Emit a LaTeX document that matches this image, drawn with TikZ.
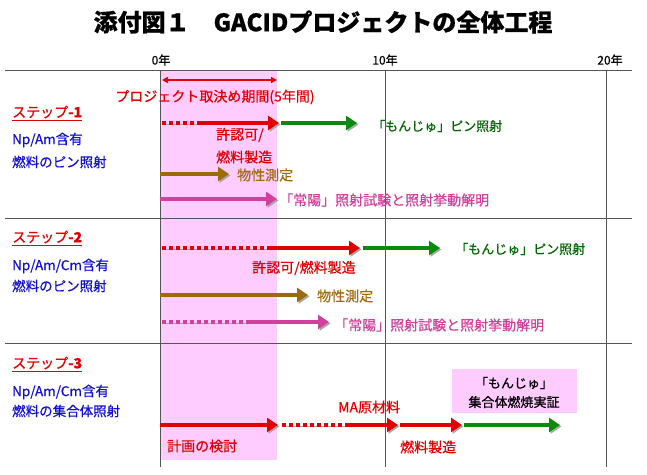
\documentclass[tikz,border=0pt]{standalone}
\usepackage{fontspec}
\setmainfont{Noto Sans CJK JP}[FakeBold=0.6]
\usetikzlibrary{arrows.meta}
\definecolor{rd}{HTML}{E00000}
\definecolor{gr}{HTML}{0A8A0A}
\definecolor{grt}{HTML}{006600}
\definecolor{br}{HTML}{9C6A08}
\definecolor{mg}{HTML}{D0409C}
\definecolor{bl}{HTML}{1010CC}
\definecolor{pk}{HTML}{FFCCFF}
\definecolor{ln}{HTML}{555555}
\tikzset{
  sh/.style={preaction={draw=black!35,transform canvas={xshift=1.5pt,yshift=-1.5pt}}},
  bar/.style={sh,line width=4.5pt,-{Triangle[length=11pt,width=14pt]}},
  dotbar/.style={sh,line width=4pt,dash pattern=on 4pt off 3pt},
  grid/.style={draw=ln,line width=0.9pt},
  lbl/.style={anchor=west,inner sep=0pt,font=\fontsize{14}{16}\selectfont},
  side/.style={anchor=west,inner sep=0pt,text=bl,font=\fontsize{13.5}{16}\selectfont},
  steplbl/.style={anchor=west,inner sep=0pt,text=rd,font=\fontsize{14}{16}\selectfont},
  yr/.style={inner sep=0pt,font=\fontsize{12}{14}\selectfont}
}
\begin{document}
\begin{tikzpicture}[x=1pt,y=-1pt]
\useasboundingbox (0,0) rectangle (647,474);
% pink band
\fill[pk] (160,70) rectangle (277,460);
% title
\node[inner sep=0pt,font=\fontsize{24}{28}\selectfont\bfseries] (title) at (323,22) {添付図１　GACIDプロジェクトの全体工程};
% grid
\draw[grid] (5,70) -- (632,70);
\draw[grid] (5,218) -- (632,218);
\draw[grid] (5,343) -- (632,343);
\draw[grid] (160,70) -- (160,467);
\draw[grid] (385,70) -- (385,467);
\draw[grid] (606,70) -- (606,467);
\node[yr] (y0) at (161,60) {0年};
\node[yr] (y10) at (385,60) {10年};
\node[yr] (y20) at (610,60) {20年};
% project period
\coordinate (p0) at (162,80); \coordinate (p1) at (277,80);
\draw[rd,line width=1.6pt,{Triangle[length=6pt,width=6pt]}-{Triangle[length=6pt,width=6pt]}] (p0) -- (p1);
\node[lbl,text=rd,anchor=center] (period) at (215,97) {プロジェクト取決め期間(5年間)};

% ---------- step 1 ----------
\node[steplbl] (s1) at (12,113) {\underline{ステップ\textbf{-1}}};
\node[side] (s1a) at (12,140) {Np/Am含有};
\node[side] (s1b) at (12,162) {燃料のピン照射};
\coordinate (a1) at (162,123); \coordinate (a2) at (200,123); \coordinate (a3) at (279,123);
\coordinate (a4) at (281,123); \coordinate (a5) at (357,123);
\draw[dotbar,rd] (a1) -- (a2);
\draw[bar,rd] (a2) -- (a3);
\draw[bar,gr] (a4) -- (a5);
\node[lbl,text=grt,font=\fontsize{13}{15}\selectfont] (m1) at (372,126) {「もんじゅ」ピン照射};
\node[lbl,text=rd] (k1a) at (216,135) {許認可/};
\node[lbl,text=rd] (k1b) at (216,157) {燃料製造};
\coordinate (b1) at (160,174); \coordinate (b2) at (229,174);
\draw[bar,br] (b1) -- (b2);
\node[lbl,text=br] (bp1) at (237,175) {物性測定};
\coordinate (c1) at (160,199); \coordinate (c2) at (277,199);
\draw[bar,mg] (c1) -- (c2);
\node[lbl,text=mg] (j1) at (279,200) {「常陽」照射試験と照射挙動解明};

% ---------- step 2 ----------
\node[steplbl] (s2) at (12,238) {\underline{ステップ\textbf{-2}}};
\node[side] (s2a) at (12,266) {Np/Am/Cm含有};
\node[side] (s2b) at (12,286) {燃料のピン照射};
\coordinate (d1) at (162,248); \coordinate (d2) at (267,248); \coordinate (d3) at (360,248);
\coordinate (d4) at (363,248); \coordinate (d5) at (440,248);
\draw[dotbar,rd] (d1) -- (d2);
\draw[bar,rd] (d2) -- (d3);
\draw[bar,gr] (d4) -- (d5);
\node[lbl,text=grt,font=\fontsize{13}{15}\selectfont] (m2) at (455,249) {「もんじゅ」ピン照射};
\node[lbl,text=rd] (k2) at (252,268) {許認可/燃料製造};
\coordinate (e1) at (160,295); \coordinate (e2) at (308,295);
\draw[bar,br] (e1) -- (e2);
\node[lbl,text=br] (bp2) at (317,296) {物性測定};
\coordinate (f1) at (162,322); \coordinate (f2) at (247,322); \coordinate (f3) at (329,322);
\draw[dotbar,mg] (f1) -- (f2);
\draw[bar,mg] (f2) -- (f3);
\node[lbl,text=mg] (j2) at (334,325) {「常陽」照射試験と照射挙動解明};

% ---------- step 3 ----------
\node[steplbl] (s3) at (12,364) {\underline{ステップ\textbf{-3}}};
\node[side] (s3a) at (12,392) {Np/Am/Cm含有};
\node[side] (s3b) at (12,411) {燃料の集合体照射};
\fill[pk] (452,369) rectangle (577,413);
\node[inner sep=0pt,font=\fontsize{13}{15}\selectfont] (mj3a) at (514,383) {「もんじゅ」};
\node[inner sep=0pt,font=\fontsize{13}{15}\selectfont] (mj3b) at (514,402) {集合体燃焼実証};
\coordinate (g1) at (160,425); \coordinate (g2) at (278,425);
\coordinate (g3) at (282,425); \coordinate (g4) at (347,425); \coordinate (g5) at (398,425);
\coordinate (g6) at (400,425); \coordinate (g7) at (462,425);
\coordinate (g8) at (464,425); \coordinate (g9) at (560,425);
\draw[bar,rd] (g1) -- (g2);
\draw[dotbar,rd] (g3) -- (g4);
\draw[bar,rd] (g4) -- (g5);
\draw[bar,rd] (g6) -- (g7);
\draw[bar,gr] (g8) -- (g9);
\node[lbl,text=rd] (plan) at (167,446) {計画の検討};
\node[lbl,text=rd] (ma) at (338,407) {MA原材料};
\node[lbl,text=rd] (fs3) at (400,447) {燃料製造};
\end{tikzpicture}
\end{document}
